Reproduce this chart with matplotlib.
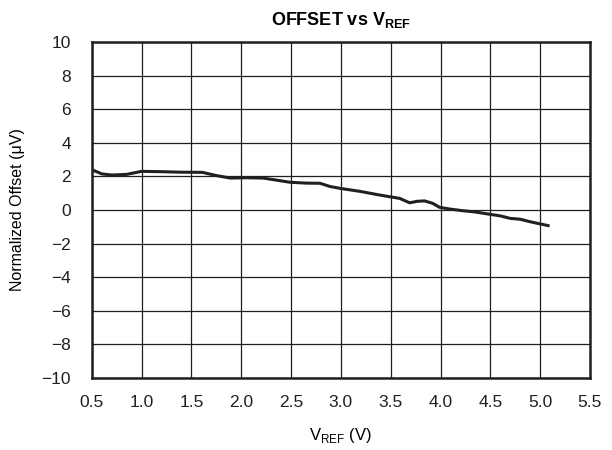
# Offset vs reference voltage curve

import matplotlib.pyplot as plt

plt.rcParams['font.family'] = ['Liberation Sans', 'DejaVu Sans']
plt.rcParams['mathtext.fontset'] = 'custom'
plt.rcParams['mathtext.rm'] = 'Liberation Sans'
plt.rcParams['mathtext.bf'] = 'Liberation Sans:bold'

# Curve
vref = [0.5, 0.6, 0.7, 0.85, 1.0, 1.2, 1.4, 1.61, 1.75, 1.89, 2.05, 2.22,
        2.35, 2.49, 2.65, 2.79, 2.89, 2.99, 3.2, 3.39, 3.49, 3.59, 3.69,
        3.77, 3.84, 3.92, 3.99, 4.1, 4.22, 4.35, 4.5, 4.6, 4.7, 4.8, 4.9, 5.08]
offset = [2.4, 2.15, 2.08, 2.12, 2.3, 2.28, 2.25, 2.24, 2.05, 1.9, 1.92,
          1.9, 1.78, 1.65, 1.6, 1.59, 1.4, 1.29, 1.1, 0.89, 0.79, 0.69, 0.43,
          0.52, 0.54, 0.4, 0.16, 0.05, -0.04, -0.12, -0.26, -0.35, -0.5,
          -0.55, -0.7, -0.93]

xticks = [0.5, 1.0, 1.5, 2.0, 2.5, 3.0, 3.5, 4.0, 4.5, 5.0, 5.5]
yticks = [-10, -8, -6, -4, -2, 0, 2, 4, 6, 8, 10]

fig = plt.figure(figsize=(6.12, 4.5), dpi=100)
ax = fig.add_axes([0.150, 0.16, 0.814, 0.7467])
ax.plot(vref, offset, color='#231f20', linewidth=2.2)

ax.set_xlim(0.5, 5.5)
ax.set_ylim(-10, 10)
ax.set_xticks(xticks)
ax.set_xticklabels([f'{v:.1f}' for v in xticks])
ax.set_yticks(yticks)
ax.set_yticklabels([str(v).replace('-', '\u2212') for v in yticks])
ax.tick_params(length=0, labelsize=12.5, colors='#231f20')
ax.tick_params(axis='x', pad=12)
ax.tick_params(axis='y', pad=15)
ax.grid(True, color='#231f20', linewidth=0.9)
for s in ax.spines.values():
    s.set_linewidth(1.8)
    s.set_color('#231f20')

ax.set_title(r'OFFSET vs V$_{\mathbf{REF}}$', fontsize=13, fontweight='bold', pad=12)
ax.set_xlabel(r'V$_{\mathrm{REF}}$ (V)', fontsize=12, labelpad=12)
ax.set_ylabel('Normalized Offset (\u03bcV)', fontsize=11.5, labelpad=12)

plt.savefig('out.png', dpi=100)
